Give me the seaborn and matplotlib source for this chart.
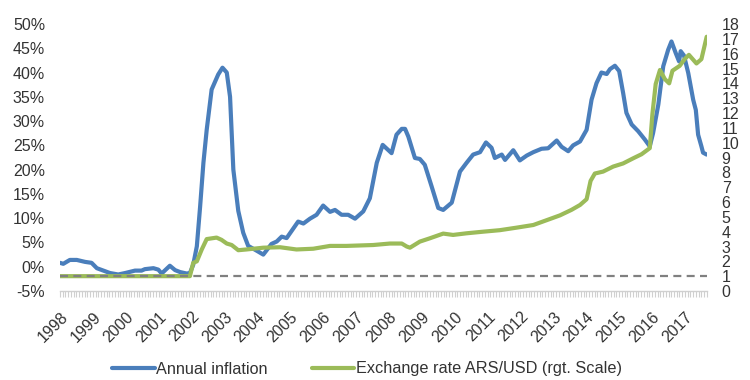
import numpy as np
import pandas as pd
import matplotlib
matplotlib.use("Agg")
import matplotlib.pyplot as plt
import matplotlib.transforms as mtransforms
import seaborn as sns

# Annual inflation (%), left axis; x in decimal years
inflation_t = [
    1998.00, 1998.10, 1998.30, 1998.51, 1998.76, 1998.96, 1999.12, 1999.32, 1999.52, 1999.77,
    1999.98, 2000.28, 2000.48, 2000.58, 2000.84, 2000.99, 2001.09, 2001.34, 2001.50, 2001.65,
    2001.85, 2001.95, 2002.05, 2002.16, 2002.26, 2002.36, 2002.46, 2002.61, 2002.81, 2002.94,
    2003.07, 2003.17, 2003.27, 2003.42, 2003.57, 2003.72, 2003.98, 2004.18, 2004.43, 2004.59,
    2004.74, 2004.89, 2005.24, 2005.40, 2005.60, 2005.80, 2006.00, 2006.21, 2006.36, 2006.56,
    2006.76, 2006.97, 2007.22, 2007.42, 2007.63, 2007.81, 2008.08, 2008.23, 2008.39, 2008.49,
    2008.59, 2008.79, 2008.94, 2009.09, 2009.30, 2009.50, 2009.65, 2009.91, 2010.16, 2010.36,
    2010.56, 2010.77, 2010.95, 2011.12, 2011.22, 2011.43, 2011.53, 2011.78, 2011.98, 2012.19,
    2012.39, 2012.64, 2012.84, 2013.10, 2013.25, 2013.45, 2013.60, 2013.81, 2014.01, 2014.16,
    2014.31, 2014.46, 2014.62, 2014.72, 2014.87, 2015.00, 2015.12, 2015.22, 2015.38, 2015.58,
    2015.78, 2015.93, 2016.03, 2016.19, 2016.34, 2016.49, 2016.59, 2016.72, 2016.82, 2016.87,
    2016.97, 2017.10, 2017.25, 2017.33, 2017.40, 2017.50, 2017.55, 2017.66,
]
inflation_pct = [
    0.8, 0.6, 1.4, 1.4, 1.0, 0.8, -0.3, -0.8, -1.3, -1.6,
    -1.3, -0.8, -0.8, -0.5, -0.3, -0.6, -1.4, 0.2, -0.7, -1.1,
    -1.4, -1.3, 0.4, 4.2, 12.4, 21.4, 28.2, 36.5, 39.6, 41.0,
    40.0, 35.0, 20.0, 11.5, 7.0, 4.3, 3.3, 2.5, 4.7, 5.2,
    6.2, 5.9, 9.3, 8.9, 9.9, 10.7, 12.6, 11.3, 11.7, 10.7,
    10.7, 9.9, 11.4, 14.1, 21.4, 25.1, 23.4, 27.2, 28.4, 28.4,
    26.8, 22.4, 22.2, 21.0, 16.5, 12.1, 11.7, 13.2, 19.6, 21.4,
    23.1, 23.6, 25.6, 24.5, 22.4, 23.1, 22.0, 24.0, 21.9, 22.9,
    23.6, 24.3, 24.4, 26.0, 24.7, 23.8, 25.0, 25.8, 28.2, 34.4,
    37.8, 40.0, 39.7, 40.7, 41.4, 40.3, 35.8, 31.7, 29.3, 27.9,
    26.2, 24.8, 27.5, 33.4, 41.3, 44.7, 46.4, 44.0, 42.3, 44.4,
    43.5, 39.9, 34.4, 32.3, 27.2, 24.8, 23.5, 23.1,
]

# Exchange rate ARS per USD, right axis
fx_t = [
    1998.00, 1999.00, 2000.00, 2001.00, 2001.95, 2002.05, 2002.16, 2002.31, 2002.46, 2002.61,
    2002.76, 2002.91, 2003.07, 2003.22, 2003.42, 2003.67, 2004.18, 2004.69, 2005.19, 2005.70,
    2006.21, 2006.71, 2007.52, 2008.03, 2008.39, 2008.54, 2008.64, 2008.94, 2009.24, 2009.65,
    2009.95, 2010.36, 2010.87, 2011.37, 2011.88, 2012.39, 2012.79, 2013.20, 2013.55, 2013.81,
    2014.01, 2014.13, 2014.26, 2014.51, 2014.82, 2015.12, 2015.43, 2015.68, 2015.93, 2016.01,
    2016.11, 2016.24, 2016.39, 2016.52, 2016.62, 2016.84, 2016.99, 2017.12, 2017.35, 2017.50,
    2017.66,
]
fx_rate = [
    1.0, 1.0, 1.0, 1.0, 1.0, 1.9, 2.0, 2.8, 3.5, 3.55,
    3.6, 3.45, 3.2, 3.1, 2.75, 2.8, 2.92, 2.95, 2.8, 2.85,
    3.04, 3.04, 3.1, 3.2, 3.2, 3.0, 2.92, 3.33, 3.55, 3.87,
    3.78, 3.89, 4.0, 4.1, 4.27, 4.45, 4.77, 5.1, 5.47, 5.8,
    6.19, 7.42, 7.92, 8.05, 8.39, 8.6, 8.95, 9.22, 9.63, 11.92,
    13.95, 14.9, 14.28, 14.0, 14.85, 15.18, 15.63, 15.92, 15.34, 15.63,
    17.14,
]

years = list(range(1998, 2018))
pct_ticks = list(range(-5, 55, 5))
rate_ticks = list(range(0, 19))
peg_rate = 1.0

BLUE = "#4a7ebb"
GREEN = "#9bbb59"
TEXT = "#333333"

sns.set_theme(style="white")
plt.rcParams["font.family"] = ["Liberation Sans", "DejaVu Sans"]

fig = plt.figure(figsize=(7.5, 3.8), dpi=100)
W, H = 750, 380
ax = fig.add_axes([60 / W, 1 - 291 / H, 647 / W, (291 - 24) / H])
ax2 = ax.twinx()

infl = pd.DataFrame({"t": inflation_t, "v": inflation_pct})
fx = pd.DataFrame({"t": fx_t, "v": fx_rate})

sns.lineplot(data=infl, x="t", y="v", ax=ax, color=BLUE, lw=3.0, legend=False)
sns.lineplot(data=fx, x="t", y="v", ax=ax2, color=GREEN, lw=3.0, legend=False)
ax2.axhline(peg_rate, color="#808080", lw=1.6, ls=(0, (3.6, 2.4)), zorder=5)

ax.set_xlim(1998.0, 2017.67)
ax.set_ylim(-5, 50)
ax2.set_ylim(0, 18)

ax.set_xlabel("")
ax.set_ylabel("")
ax2.set_xlabel("")
ax2.set_ylabel("")

ax.set_yticks(pct_ticks)
ax.set_yticklabels([f"{v}%" for v in pct_ticks])
ax2.set_yticks(rate_ticks)
ax2.set_yticklabels([str(v) for v in rate_ticks])

ax.set_xticks(years)
ax.set_xticks(np.arange(1998.0, 2017.67, 1 / 12), minor=True)
ax.set_xticklabels([str(y) for y in years], rotation=45, ha="right",
                   rotation_mode="anchor")
offset = mtransforms.ScaledTranslation(8 / 100, 0, fig.dpi_scale_trans)
for lbl in ax.get_xticklabels():
    lbl.set_transform(lbl.get_transform() + offset)

ax.tick_params(axis="x", which="both", direction="out", length=4, width=0.8,
               color="#d0d0d0", labelsize=11.5, labelcolor=TEXT, pad=9, bottom=True)
ax.tick_params(axis="y", length=0, labelsize=11.5, labelcolor=TEXT, pad=10.8)
ax2.tick_params(axis="y", length=0, labelsize=11.5, labelcolor=TEXT, pad=10.6)

for s in ["top", "left", "right"]:
    ax.spines[s].set_visible(False)
for s in ["top", "left", "right", "bottom"]:
    ax2.spines[s].set_visible(False)
ax.spines["bottom"].set_color("#d0d0d0")
ax.spines["bottom"].set_linewidth(1.0)
ax.grid(False)
ax2.grid(False)

handles = [
    plt.Line2D([], [], color=BLUE, lw=3.0),
    plt.Line2D([], [], color=GREEN, lw=3.0),
]
fig.legend(handles, ["Annual inflation", "Exchange rate ARS/USD (rgt. Scale)"],
           loc="center", bbox_to_anchor=(367 / W, 1 - 369 / H), ncol=2, frameon=False,
           fontsize=11.7, handlelength=2.6, handletextpad=0.1, columnspacing=2.7,
           labelcolor=TEXT)

fig.savefig("out.png", dpi=100)
